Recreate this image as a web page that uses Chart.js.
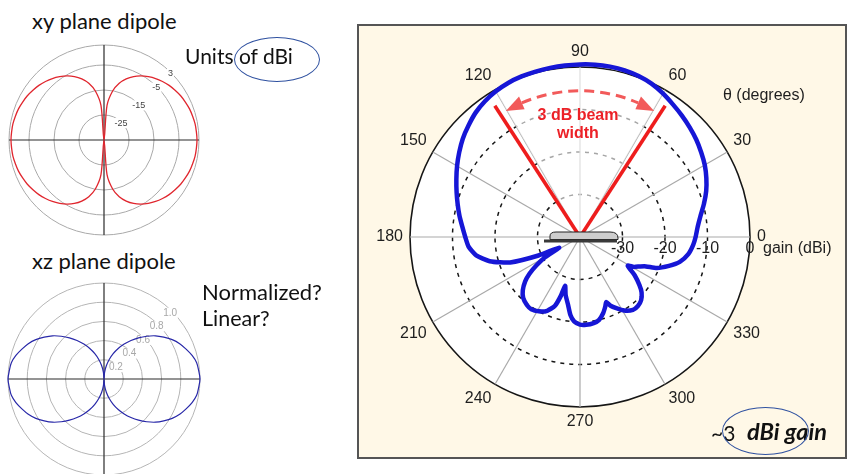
<!DOCTYPE html>
<html>
<head>
<meta charset="utf-8">
<script src="https://cdn.jsdelivr.net/npm/chart.js@4.4.1/dist/chart.umd.min.js"></script>
<style>
html,body{margin:0;padding:0;background:#fff;width:851px;height:474px;overflow:hidden;position:relative;font-family:Lato,"Open Sans",sans-serif;}
.t{position:absolute;white-space:nowrap;color:#111;line-height:1;}
canvas{position:absolute;}
.panel{position:absolute;left:357px;top:24px;width:490px;height:435px;box-sizing:border-box;border:2px solid #555;background:#fff8e7;}
.ell{position:absolute;border:1.3px solid #2f51a0;border-radius:50%;box-sizing:border-box;}
</style>
</head>
<body>
<div class="panel"></div>
<canvas id="xy" width="210" height="200" style="left:0;top:40px"></canvas>
<canvas id="xz" width="210" height="210" style="left:0;top:275px"></canvas>
<canvas id="main" width="486" height="431" style="left:359px;top:26px"></canvas>

<div class="t" style="left:32px;top:10px;font-size:22px">xy plane dipole</div>
<div class="t" style="left:185px;top:45px;font-size:21px">Units of dBi</div>
<div class="ell" style="left:234px;top:37px;width:86px;height:45px"></div>
<div class="t" style="left:32px;top:250px;font-size:22px">xz plane dipole</div>
<div class="t" style="left:202px;top:281px;font-size:22px">Normalized?</div>
<div class="t" style="left:202px;top:308px;font-size:21.5px">Linear?</div>
<div class="t" style="left:711px;top:422px;font-size:21px">~3</div>
<div class="t" style="left:747px;top:420px;font-size:23.5px;font-weight:bold;font-style:italic">dBi gain</div>
<div class="ell" style="left:722px;top:407px;width:87px;height:48px"></div>

<script>
// ---------------- data ----------------
// xy plane dipole: gain in dBi, every 5 degrees (theta = 0..355)
const xyAngles = [0,5,10,15,20,25,30,35,40,45,50,55,60,65,70,75,80,85,90,95,100,105,110,115,120,125,130,135,140,145,150,155,160,165,170,175,180,185,190,195,200,205,210,215,220,225,230,235,240,245,250,255,260,265,270,275,280,285,290,295,300,305,310,315,320,325,330,335,340,345,350,355];
const xyGainDbi = [2.2,2.1,2.0,1.7,1.4,0.9,0.4,-0.3,-1.0,-1.9,-2.9,-4.1,-5.4,-7.0,-9.0,-11.5,-15.1,-21.1,-35,
  -21.1,-15.1,-11.5,-9.0,-7.0,-5.4,-4.1,-2.9,-1.9,-1.0,-0.3,0.4,0.9,1.4,1.7,2.0,2.1,2.2,
  2.1,2.0,1.7,1.4,0.9,0.4,-0.3,-1.0,-1.9,-2.9,-4.1,-5.4,-7.0,-9.0,-11.5,-15.1,-21.1,-35,
  -21.1,-15.1,-11.5,-9.0,-7.0,-5.4,-4.1,-2.9,-1.9,-1.0,-0.3,0.4,0.9,1.4,1.7,2.0,2.1];
const xyRange = [-35, 3];
const xyTicks = [-25, -15, -5, 3];

// xz plane dipole: normalized linear field, every 5 degrees
const xzAngles = xyAngles;
const xzField = [1.00,0.99,0.98,0.95,0.91,0.87,0.82,0.76,0.70,0.63,0.56,0.49,0.42,0.35,0.28,0.21,0.14,0.07,0.00,
  0.07,0.14,0.21,0.28,0.35,0.42,0.49,0.56,0.63,0.70,0.76,0.82,0.87,0.91,0.95,0.98,0.99,1.00,
  0.99,0.98,0.95,0.91,0.87,0.82,0.76,0.70,0.63,0.56,0.49,0.42,0.35,0.28,0.21,0.14,0.07,0.00,
  0.07,0.14,0.21,0.28,0.35,0.42,0.49,0.56,0.63,0.70,0.76,0.82,0.87,0.91,0.95,0.98,0.99];
const xzRange = [0, 1];
const xzTicks = [0.2, 0.4, 0.6, 0.8, 1.0];

// measured antenna pattern (theta in degrees, gain in dBi)
const mainAngles = [0,5,10,15,20,25,30,35,40,45,50,55,60,65,70,75,80,85,90,95,100,105,110,115,120,125,130,135,140,145,150,155,160,165,170,175,180,185,190,195,200,204,207,210,213,216,219,223,227,232,236,241,246,250,252,253,256,260,263,266,270,274,279,283,287,290,292,294,297,301,306,310,314,318,321,325,329,331,334,336,338,342,346,351,356];
const mainGain = [-12.8,-12.2,-11.2,-9.8,-8.4,-7.2,-6.1,-5.2,-4.3,-3.5,-2.7,-1.9,-1.0,-0.2,0.3,0.6,0.7,0.7,0.6,0.5,0.4,0.3,0.2,0.0,-0.4,-1.0,-1.8,-2.9,-4.0,-5.3,-6.6,-7.9,-9.1,-10.2,-11.2,-12.2,-13.0,-13.7,-15.2,-18.0,-22.5,-29.3,-34.5,-30.5,-27.8,-25.3,-23.4,-21.6,-20.4,-19.7,-19.5,-20.0,-21.0,-22.8,-25.5,-28.0,-26.0,-23.8,-21.5,-20.1,-19.4,-19.3,-19.5,-20.0,-21.3,-22.6,-23.5,-22.3,-21.2,-19.8,-18.8,-18.8,-19.3,-20.5,-22.0,-24.3,-26.9,-25.5,-24.2,-23.0,-20.5,-18.0,-15.8,-14.2,-13.3];
const mainRange = [-40, 0];
const mainAngleTicks = [0,30,60,90,120,150,180,210,240,270,300,330];
const mainGainTicks = [-30, -20, -10, 0];
const beamEdgeAngles = [57, 123];   // 3 dB beam edges
const beamEdgeGain = -3.2;
const beamArcAngles = [59.5, 120.5]; // arrow tips of the beam-width arc
const beamArcGain = -5.6;
const beamShade = [60, 120];

// ---------------- helpers ----------------
const DEG = Math.PI / 180;
const ARIAL = '"Liberation Sans", Arial, sans-serif';
function polarPt(s, deg, v) {
  const r = s.getDistanceFromCenterForValue(v);
  return [s.xCenter + r * Math.cos(deg * DEG), s.yCenter - r * Math.sin(deg * DEG)];
}
// radar index i sits at theta = -i*step (counter-clockwise from the right with startAngle 90)
function toRadarOrder(values) {
  const n = values.length;
  return values.map((_, i) => values[(n - i) % n]);
}
const CLEAR = 'rgba(0,0,0,0)';

// ---------------- xy plane chart ----------------
new Chart(document.getElementById('xy'), {
  type: 'radar',
  data: {
    labels: xyAngles.map(String),
    datasets: [{
      data: toRadarOrder(xyGainDbi),
      borderColor: '#e0262e', borderWidth: 1.3, pointRadius: 0, fill: false,
      tension: 0.3, capBezierPoints: false, clip: false
    }]
  },
  options: {
    responsive: false, animation: false, devicePixelRatio: 1,
    layout: { padding: { left: 9, top: 5, right: 11, bottom: 5 } },
    plugins: { legend: { display: false }, tooltip: { enabled: false } },
    scales: {
      r: {
        min: xyRange[0], max: xyRange[1], startAngle: 90,
        afterBuildTicks: s => { s.ticks = [xyRange[0], ...xyTicks].map(v => ({ value: v })); },
        ticks: { display: false },
        pointLabels: { display: false },
        grid: { circular: true, color: c => c.tick.value <= xyRange[0] ? CLEAR : '#a9a9a9', lineWidth: 1 },
        angleLines: {
          color: c => c.index % 18 === 0 ? '#2a2a2a' : CLEAR,
          lineWidth: c => c.index % 18 === 0 ? 1.2 : 0
        }
      }
    }
  },
  plugins: [{
    id: 'xyLabels',
    afterDatasetsDraw(chart) {
      const s = chart.scales.r, ctx = chart.ctx;
      ctx.save();
      ctx.font = '9px ' + ARIAL;
      ctx.textAlign = 'center'; ctx.textBaseline = 'middle';
      xyTicks.forEach(v => {
        const p = polarPt(s, 45, v - 0.4);
        const t = String(v), w = ctx.measureText(t).width;
        ctx.fillStyle = '#fff'; ctx.fillRect(p[0] - w / 2 - 1, p[1] - 5, w + 2, 10);
        ctx.fillStyle = '#444'; ctx.fillText(t, p[0], p[1]);
      });
      ctx.restore();
    }
  }]
});

// ---------------- xz plane chart ----------------
new Chart(document.getElementById('xz'), {
  type: 'radar',
  data: {
    labels: xzAngles.map(String),
    datasets: [{
      data: toRadarOrder(xzField),
      borderColor: '#2828a8', borderWidth: 1.2, pointRadius: 0, fill: false,
      tension: 0.3, capBezierPoints: false, clip: false
    }]
  },
  options: {
    responsive: false, animation: false, devicePixelRatio: 1,
    layout: { padding: { left: 8, top: 8, right: 10, bottom: 10 } },
    plugins: { legend: { display: false }, tooltip: { enabled: false } },
    scales: {
      r: {
        min: xzRange[0], max: xzRange[1], startAngle: 90,
        afterBuildTicks: s => { s.ticks = [xzRange[0], ...xzTicks].map(v => ({ value: v })); },
        ticks: { display: false },
        pointLabels: { display: false },
        grid: { circular: true, color: '#b5b5b5', lineWidth: 1 },
        angleLines: {
          color: c => c.index % 18 === 0 ? '#2a2a2a' : CLEAR,
          lineWidth: c => c.index % 18 === 0 ? 1.2 : 0
        }
      }
    }
  },
  plugins: [{
    id: 'xzLabels',
    beforeDatasetsDraw(chart) {
      const s = chart.scales.r, ctx = chart.ctx;
      ctx.save();
      ctx.font = '10px ' + ARIAL;
      ctx.textAlign = 'center'; ctx.textBaseline = 'middle';
      xzTicks.forEach(v => {
        const p = polarPt(s, 45, v - 0.025);
        const t = v.toFixed(1), w = ctx.measureText(t).width;
        ctx.fillStyle = '#fff'; ctx.fillRect(p[0] - w / 2 - 1, p[1] - 5, w + 2, 10);
        ctx.fillStyle = '#a8a8a8'; ctx.fillText(t, p[0], p[1]);
      });
      ctx.restore();
    }
  }]
});

// ---------------- main measured pattern ----------------
const N = 360;
const mainLabels = Array.from({ length: N }, (_, i) => String((N - i) % N));
const mainData = new Array(N).fill(null);
mainAngles.forEach((a, k) => { mainData[(N - a) % N] = mainGain[k]; });

const mainDecor = {
  id: 'mainDecor',
  beforeDatasetsDraw(chart) {
    const s = chart.scales.r, ctx = chart.ctx;
    const R = s.getDistanceFromCenterForValue(mainRange[1]);
    ctx.save();
    ctx.fillStyle = 'rgba(255,255,255,0.62)';
    ctx.beginPath();
    ctx.moveTo(s.xCenter, s.yCenter);
    ctx.arc(s.xCenter, s.yCenter, R - 1, -beamShade[1] * DEG, -beamShade[0] * DEG);
    ctx.closePath();
    ctx.fill();
    ctx.restore();
  },
  afterDatasetsDraw(chart) {
    const s = chart.scales.r, ctx = chart.ctx;
    const xc = s.xCenter, yc = s.yCenter;
    const R = s.getDistanceFromCenterForValue(mainRange[1]);
    ctx.save();
    // red 3 dB beam edge lines
    ctx.strokeStyle = '#ee1d1d'; ctx.lineWidth = 3.6; ctx.lineCap = 'butt';
    beamEdgeAngles.forEach(a => {
      const p = polarPt(s, a, beamEdgeGain);
      ctx.beginPath(); ctx.moveTo(xc, yc); ctx.lineTo(p[0], p[1]); ctx.stroke();
    });
    // dashed arc with arrow heads
    const ra = s.getDistanceFromCenterForValue(beamArcGain);
    const head = 18 / ra / DEG; // arrow head length in degrees
    ctx.strokeStyle = '#f25a5a'; ctx.lineWidth = 3; ctx.setLineDash([10, 6]);
    ctx.beginPath();
    ctx.arc(xc, yc, ra, -(beamArcAngles[1] - head) * DEG, -(beamArcAngles[0] + head) * DEG);
    ctx.stroke();
    ctx.setLineDash([]);
    ctx.fillStyle = '#f25a5a';
    [[beamArcAngles[0], 1], [beamArcAngles[1], -1]].forEach(([a, dir]) => {
      const b = a + dir * head;
      const tip = [xc + ra * Math.cos(a * DEG), yc - ra * Math.sin(a * DEG)];
      const b1 = [xc + (ra - 7) * Math.cos(b * DEG), yc - (ra - 7) * Math.sin(b * DEG)];
      const b2 = [xc + (ra + 7) * Math.cos(b * DEG), yc - (ra + 7) * Math.sin(b * DEG)];
      ctx.beginPath(); ctx.moveTo(tip[0], tip[1]); ctx.lineTo(b1[0], b1[1]); ctx.lineTo(b2[0], b2[1]); ctx.closePath(); ctx.fill();
    });
    // beam width text
    ctx.fillStyle = '#ec2127';
    ctx.font = 'bold 16px ' + ARIAL;
    ctx.textAlign = 'center'; ctx.textBaseline = 'middle';
    ctx.fillText('3 dB beam', xc - 2, yc - 121);
    ctx.fillText('width', xc - 2, yc - 103);
    // antenna sketch at the origin
    ctx.fillStyle = '#cdcdcd'; ctx.strokeStyle = '#222'; ctx.lineWidth = 1;
    ctx.beginPath();
    ctx.moveTo(xc - 30, yc + 2.5);
    ctx.lineTo(xc - 30, yc - 1);
    ctx.quadraticCurveTo(xc - 30, yc - 5, xc - 24, yc - 5);
    ctx.lineTo(xc + 30, yc - 5);
    ctx.quadraticCurveTo(xc + 38, yc - 5, xc + 38, yc + 1);
    ctx.lineTo(xc + 38, yc + 2.5);
    ctx.closePath(); ctx.fill(); ctx.stroke();
    ctx.fillStyle = '#3a3a3a';
    ctx.fillRect(xc - 36, yc + 2.5, 73, 3);
    // angle labels
    ctx.fillStyle = '#1e1e1e';
    ctx.font = '16px ' + ARIAL;
    mainAngleTicks.forEach(a => {
      const c = Math.cos(a * DEG), sn = Math.sin(a * DEG);
      const x = xc + (R + 7) * c, y = yc - (R + 7) * sn;
      ctx.textAlign = Math.abs(c) < 0.05 ? 'center' : (c > 0 ? 'left' : 'right');
      ctx.textBaseline = Math.abs(sn) < 0.05 ? 'middle' : (sn > 0 ? 'bottom' : 'top');
      ctx.fillText(String(a), x, y);
    });
    // gain tick labels along the 0 degree axis
    ctx.textAlign = 'center'; ctx.textBaseline = 'middle';
    mainGainTicks.forEach(v => {
      ctx.fillText(String(v), xc + s.getDistanceFromCenterForValue(v), yc + 12);
    });
    ctx.textAlign = 'left';
    ctx.fillText('gain (dBi)', xc + R + 13, yc + 12);
    ctx.fillText('\u03B8 (degrees)', xc + 143, yc - 141);
    ctx.restore();
  }
};

new Chart(document.getElementById('main'), {
  type: 'radar',
  data: {
    labels: mainLabels,
    datasets: [{
      data: mainData,
      spanGaps: true,
      borderColor: '#1616d6', borderWidth: 4.5, pointRadius: 0, fill: false,
      borderJoinStyle: 'round', borderCapStyle: 'round',
      tension: 0.2, capBezierPoints: false, clip: false
    }]
  },
  options: {
    responsive: false, animation: false, devicePixelRatio: 1,
    layout: { padding: { left: 51, top: 41, right: 95, bottom: 50 } },
    plugins: { legend: { display: false }, tooltip: { enabled: false } },
    scales: {
      r: {
        min: mainRange[0], max: mainRange[1], startAngle: 90,
        ticks: { display: false, stepSize: 10 },
        pointLabels: { display: false },
        backgroundColor: '#ffffff',
        grid: {
          circular: true,
          color: c => c.tick.value <= mainRange[0] ? CLEAR : '#161616',
          lineWidth: c => c.tick.value >= mainRange[1] ? 1.6 : 1.5
        },
        border: { dash: c => c.tick.value >= mainRange[1] ? [] : [4, 5] },
        angleLines: {
          color: c => c.index % 30 === 0 ? '#a9a9a9' : CLEAR,
          lineWidth: c => c.index % 30 === 0 ? 1.2 : 0
        }
      }
    }
  },
  plugins: [mainDecor]
});
</script>
</body>
</html>
